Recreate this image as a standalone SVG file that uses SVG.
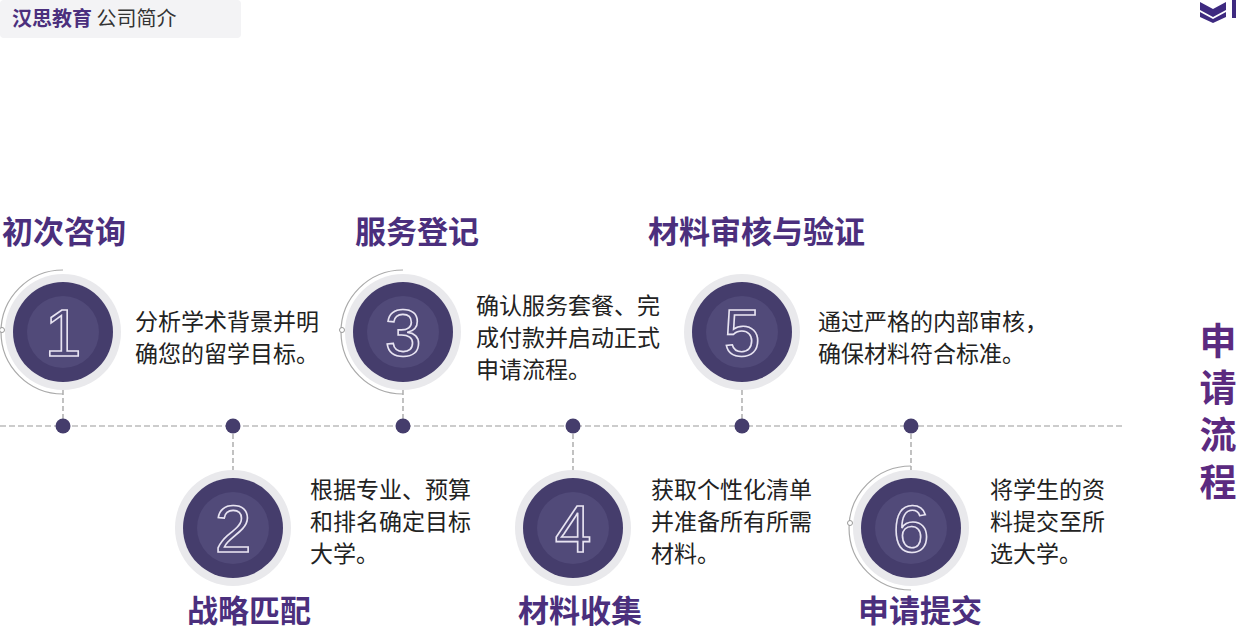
<svg xmlns="http://www.w3.org/2000/svg" width="1241" height="633" viewBox="0 0 1241 633">
<style>
.t{font-family:"Noto Sans CJK SC",sans-serif;font-weight:700;font-size:31px;fill:#4b2f7d}
.d{font-family:"Noto Sans CJK SC",sans-serif;font-size:23px;fill:#222}
.n{font-family:"Liberation Sans",sans-serif;font-size:66px;fill:none;stroke:#e8e4f2;stroke-width:1.6;text-anchor:middle}
.ring{fill:#e9e9ec}
.dk{fill:#453d6c}
.in{fill:#514a79}
.arc{fill:none;stroke:#aaa;stroke-width:1.2}
.vd{stroke:#999;stroke-width:1.2;stroke-dasharray:5 3}
.dot{fill:#453d6c}
</style>
<rect x="0" y="0" width="241" height="38" rx="4" fill="#f3f3f5"/>
<text x="12" y="26" font-family="Noto Sans CJK SC,sans-serif" font-size="20" font-weight="700" fill="#4b2f7d">汉思教育 <tspan font-weight="400" fill="#333">公司简介</tspan></text>
<g id="logo"><path d="M1200 2 L1213 9 L1226 2 L1226 10 L1213 17 L1200 10Z M1200 12 L1213 19 L1226 12 L1226 17 L1213 23 L1200 17Z" fill="#3e2a80"/><rect x="1232" y="0" width="4" height="18" fill="#3e2a80"/></g>
<g id="connectors">
<line x1="0" y1="426" x2="1124" y2="426" stroke="#999" stroke-width="1.2" stroke-dasharray="6 3"/>
<line class="vd" x1="63" y1="390" x2="63" y2="426"/>
<line class="vd" x1="233" y1="426" x2="233" y2="470"/>
<line class="vd" x1="403" y1="390" x2="403" y2="426"/>
<line class="vd" x1="573" y1="426" x2="573" y2="470"/>
<line class="vd" x1="742" y1="390" x2="742" y2="426"/>
<line class="vd" x1="911" y1="426" x2="911" y2="470"/>
<circle class="dot" cx="63" cy="426" r="7.5"/><circle class="dot" cx="233" cy="426" r="7.5"/><circle class="dot" cx="403" cy="426" r="7.5"/><circle class="dot" cx="573" cy="426" r="7.5"/><circle class="dot" cx="742" cy="426" r="7.5"/><circle class="dot" cx="911" cy="426" r="7.5"/>
</g>
<g id="n1"><text class="t" x="2" y="243">初次咨询</text>
<path class="arc" d="M63 270 A62 62 0 0 0 63 394"/><circle cx="2" cy="330" r="2.5" fill="#fff" stroke="#999"/>
<circle class="ring" cx="63" cy="332" r="58"/><circle class="dk" cx="63" cy="332" r="50"/><circle class="in" cx="63" cy="332" r="36"/><text class="n" x="63" y="356">1</text>
<text class="d" x="135" y="330">分析学术背景并明</text><text class="d" x="135" y="362">确您的留学目标。</text></g>
<g id="n2"><text class="t" x="187" y="622">战略匹配</text>
<circle class="ring" cx="233" cy="528" r="58"/><circle class="dk" cx="233" cy="528" r="50"/><circle class="in" cx="233" cy="528" r="36"/><text class="n" x="233" y="552">2</text>
<text class="d" x="310" y="498">根据专业、预算</text><text class="d" x="310" y="530">和排名确定目标</text><text class="d" x="310" y="562">大学。</text></g>
<g id="n3"><text class="t" x="355" y="243">服务登记</text>
<path class="arc" d="M403 270 A62 62 0 0 0 403 394"/><circle cx="342" cy="330" r="2.5" fill="#fff" stroke="#999"/>
<circle class="ring" cx="403" cy="332" r="58"/><circle class="dk" cx="403" cy="332" r="50"/><circle class="in" cx="403" cy="332" r="36"/><text class="n" x="403" y="356">3</text>
<text class="d" x="476" y="314">确认服务套餐、完</text><text class="d" x="476" y="346">成付款并启动正式</text><text class="d" x="476" y="378">申请流程。</text></g>
<g id="n4"><text class="t" x="518" y="622">材料收集</text>
<circle class="ring" cx="573" cy="528" r="58"/><circle class="dk" cx="573" cy="528" r="50"/><circle class="in" cx="573" cy="528" r="36"/><text class="n" x="573" y="552">4</text>
<text class="d" x="651" y="498">获取个性化清单</text><text class="d" x="651" y="530">并准备所有所需</text><text class="d" x="651" y="562">材料。</text></g>
<g id="n5"><text class="t" x="648" y="243">材料审核与验证</text>
<circle class="ring" cx="742" cy="332" r="58"/><circle class="dk" cx="742" cy="332" r="50"/><circle class="in" cx="742" cy="332" r="36"/><text class="n" x="742" y="356">5</text>
<text class="d" x="818" y="330">通过严格的内部审核，</text><text class="d" x="818" y="362">确保材料符合标准。</text></g>
<g id="n6"><text class="t" x="858" y="622">申请提交</text>
<path class="arc" d="M911 466 A62 62 0 0 0 911 590"/><circle cx="850" cy="523" r="2.5" fill="#fff" stroke="#999"/>
<circle class="ring" cx="911" cy="528" r="58"/><circle class="dk" cx="911" cy="528" r="50"/><circle class="in" cx="911" cy="528" r="36"/><text class="n" x="911" y="552">6</text>
<text class="d" x="990" y="498">将学生的资</text><text class="d" x="990" y="530">料提交至所</text><text class="d" x="990" y="562">选大学。</text></g>
<g id="side"><text x="1218" y="322" writing-mode="tb" letter-spacing="10" font-family="Noto Sans CJK SC,sans-serif" font-weight="700" font-size="37" fill="#5b2a80">申请流程</text></g>
</svg>
